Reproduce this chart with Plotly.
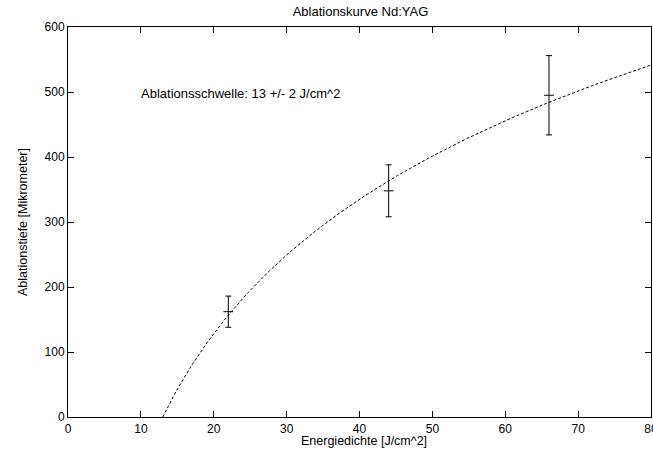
import numpy as np
import plotly.graph_objects as go

# Measured ablation depth vs. fluence (Nd:YAG)
fluence = [22, 44, 66]            # J/cm^2
depth = [162, 348, 495]           # micrometres
depth_err = [24, 40, 61]

# Logarithmic ablation model d = a * ln(F / F_th)
fit_a = 298.0
fit_threshold = 13.0

x_fit = np.linspace(fit_threshold, 80, 400)
y_fit = fit_a * np.log(x_fit / fit_threshold)

font_family = "Liberation Sans, Arial, sans-serif"

fig = go.Figure()

fig.add_trace(go.Scatter(
    x=x_fit, y=y_fit, mode="lines",
    line=dict(color="black", width=1, dash="3px,2px"),
    hoverinfo="skip", showlegend=False,
))

fig.add_trace(go.Scatter(
    x=fluence, y=depth, mode="markers",
    marker=dict(symbol="line-ew", size=7, color="black",
                line=dict(color="black", width=1)),
    error_y=dict(type="data", array=depth_err, visible=True,
                 color="black", thickness=1, width=3),
    showlegend=False,
))

axis_common = dict(
    showline=True, linecolor="black", linewidth=1, mirror="ticks",
    ticks="inside", ticklen=6, tickcolor="black", tickwidth=1,
    showgrid=False, zeroline=False, automargin=False,
    tickfont=dict(family=font_family, size=12, color="black"),
)

fig.update_layout(
    width=653, height=450,
    margin=dict(l=68, r=2, t=27, b=33),
    paper_bgcolor="white", plot_bgcolor="white",
    font=dict(family=font_family, size=12, color="black"),
    title=dict(text="Ablationskurve Nd:YAG", x=0.552, xanchor="center",
               y=1 - 11 / 450, yanchor="middle",
               font=dict(family=font_family, size=13, color="black")),
    xaxis=dict(range=[0, 80], dtick=10, ticklabeloverflow="allow",
               ticklabelstandoff=1, **axis_common),
    yaxis=dict(range=[0, 600], dtick=100,
               title=dict(text="Ablationstiefe [Mikrometer]", standoff=14,
                          font=dict(family=font_family, size=12.5)),
               **axis_common),
    annotations=[
        dict(x=9.7, y=498, xref="x", yref="y", xanchor="left", yanchor="middle",
             text="Ablationsschwelle: 13 +/- 2 J/cm^2", showarrow=False,
             font=dict(family=font_family, size=13, color="black")),
        dict(x=0.508, y=-0.061, xref="paper", yref="paper",
             xanchor="center", yanchor="middle",
             text="Energiedichte [J/cm^2]", showarrow=False,
             font=dict(family=font_family, size=12.5, color="black")),
    ],
)

fig.write_html("out.html")
